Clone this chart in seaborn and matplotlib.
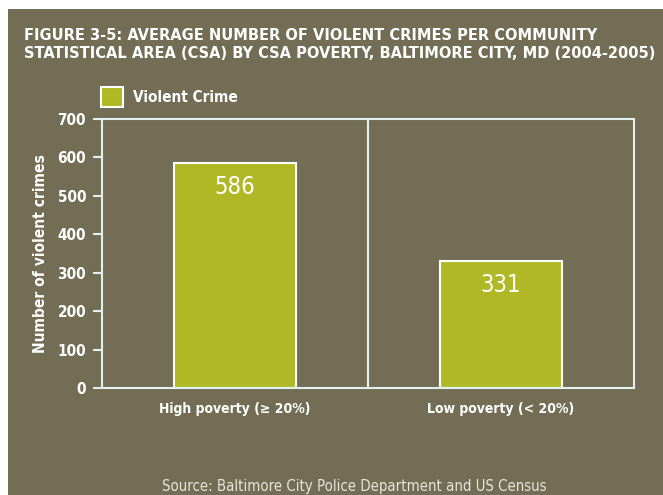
import matplotlib
matplotlib.use("Agg")
import matplotlib.pyplot as plt
import seaborn as sns
import pandas as pd
from matplotlib.patches import Rectangle

categories = ["High poverty (\u2265 20%)", "Low poverty (< 20%)"]
values = [586, 331]
yticks = [0, 100, 200, 300, 400, 500, 600, 700]

BG = "#736d56"
BAR = "#b0b925"
LINE = "#e2f0ee"

sns.set_theme(style="white")
plt.rcParams["font.family"] = ["DejaVu Sans"]
plt.rcParams["font.stretch"] = "condensed"

df = pd.DataFrame({"cat": categories, "val": values})

fig = plt.figure(figsize=(6.63, 4.95), dpi=100, facecolor="white")
fig.add_artist(Rectangle((8 / 663, 0), 1, 1 - 9 / 495, transform=fig.transFigure,
                         facecolor=BG, edgecolor="none", zorder=-10))
ax = fig.add_axes([102 / 663, (495 - 388) / 495, 532 / 663, 269 / 495])
ax.set_facecolor(BG)

sns.barplot(data=df, x="cat", y="val", color=BAR, width=0.455, ax=ax,
            edgecolor="white", linewidth=1.5, saturation=1)
ax.set_xlim(-0.5, 1.5)
ax.set_ylim(0, 700)
ax.set_yticks(yticks)
ax.set_yticklabels([str(t) for t in yticks], color="white", fontsize=11, fontweight="bold")
ax.tick_params(axis="y", length=6.5, width=1.5, color=LINE, direction="out", left=True, pad=5)
ax.tick_params(axis="x", length=0, pad=10)
for lab in ax.get_xticklabels():
    lab.set_color("white")
    lab.set_fontsize(10)
    lab.set_fontweight("bold")
ax.axvline(0.5, color=LINE, lw=1.5)
for s in ax.spines.values():
    s.set_color(LINE)
    s.set_linewidth(1.5)
ax.set_xlabel("")
ax.set_ylabel("Number of violent crimes", color="white", fontsize=11.2, fontweight="bold", labelpad=7)

for i, v in enumerate(values):
    ax.text(i, v - 62, str(v), ha="center", va="center", color="white", fontsize=17,
            fontweight="light")

t1 = fig.text(24 / 663, 1 - 35 / 495, "FIGURE 3-5: AVERAGE NUMBER OF VIOLENT CRIMES PER COMMUNITY",
              color="white", fontsize=11.5, fontweight="bold", va="center")
t2 = fig.text(24 / 663, 1 - 53 / 495, "STATISTICAL AREA (CSA) BY CSA POVERTY, BALTIMORE CITY, MD (2004-2005)",
              color="white", fontsize=11.5, fontweight="bold", va="center")

fig.add_artist(Rectangle((101 / 663, 1 - 107 / 495), 22 / 663, 20 / 495, transform=fig.transFigure,
                         facecolor=BAR, edgecolor="white", lw=1.5))
lg = fig.text(133 / 663, 1 - 98 / 495, "Violent Crime", color="white", fontsize=10,
              fontweight="bold", va="center")

src = fig.text(354 / 663, 1 - 487 / 495, "Source: Baltimore City Police Department and US Census",
               color="#e8e4d8", fontsize=9.7, ha="center", va="center")

renderer = fig.canvas.get_renderer()
def fit(t, target_px):
    w = t.get_window_extent(renderer).width
    t.set_fontsize(t.get_fontsize() * target_px / w)
fit(t2, 634)
t1.set_fontsize(t2.get_fontsize())
fit(lg, 104)
fit(src, 385)

fig.savefig("out.png", dpi=100, facecolor="white")
